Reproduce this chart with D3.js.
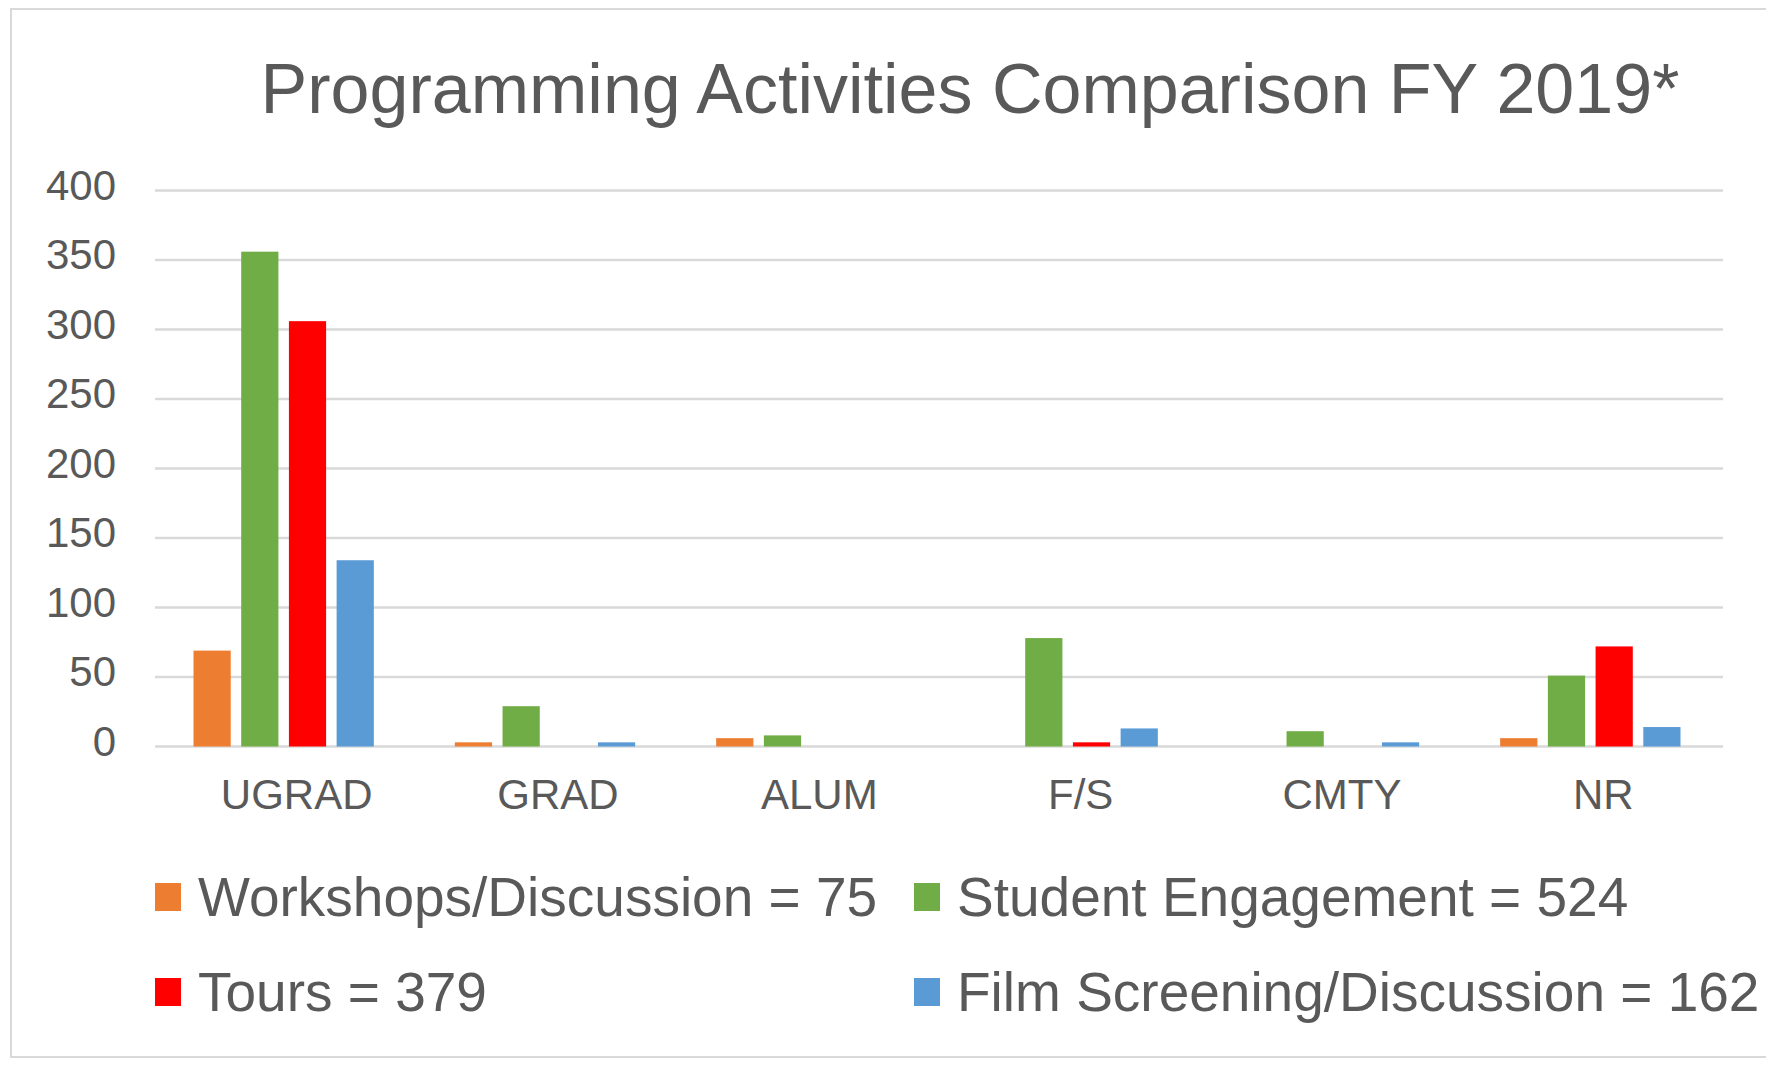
<!DOCTYPE html>
<html lang="en">
<head>
    <meta charset="UTF-8">
    <title>Programming Activities Comparison FY 2019</title>
    <script src="https://d3js.org/d3.v7.min.js"></script>
    <style>
        body { margin: 0; background: white; }
        text { font-family: "Liberation Sans", Arial, sans-serif; fill: #595959; }
    </style>
</head>
<body>
    <script>
        var categories = ["UGRAD", "GRAD", "ALUM", "F/S", "CMTY", "NR"];
        var seriesNames = ["Workshops/Discussion", "Student Engagement", "Tours", "Film Screening/Discussion"];
        var legendLabels = ["Workshops/Discussion = 75", "Student Engagement = 524", "Tours = 379", "Film Screening/Discussion = 162"];
        var workshops = [69, 3, 6, 0, 0, 6];
        var engagement = [356, 29, 8, 78, 11, 51];
        var tours = [306, 0, 0, 3, 0, 72];
        var film = [134, 3, 0, 13, 3, 14];
        var yTicks = [0, 50, 100, 150, 200, 250, 300, 350, 400];
        var colors = ["#ED7D31", "#70AD47", "#FF0000", "#5B9BD5"];

        var W = 1766, H = 1066;
        var allSeries = [workshops, engagement, tours, film];

        var svg = d3.select("body").append("svg")
            .attr("width", W)
            .attr("height", H);

        // outer frame
        svg.append("rect")
            .attr("x", 11).attr("y", 9)
            .attr("width", 1800).attr("height", 1048)
            .style("fill", "white")
            .style("stroke", "#d9d9d9")
            .style("stroke-width", 2);

        svg.append("text")
            .attr("x", 970).attr("y", 113)
            .attr("text-anchor", "middle")
            .style("font-size", "70px")
            .text("Programming Activities Comparison FY 2019*");

        var x0 = d3.scaleBand()
            .domain(categories)
            .range([153, 1721])
            .paddingInner(0.31)
            .paddingOuter(0.155);

        var x1 = d3.scaleBand()
            .domain(seriesNames)
            .range([0, x0.bandwidth()])
            .paddingInner(0.22);

        var y = d3.scaleLinear()
            .domain([0, 400])
            .range([746.5, 190.5]);

        // gridlines
        svg.append("g").selectAll("line")
            .data(yTicks)
            .enter().append("line")
            .attr("x1", 155).attr("x2", 1723)
            .attr("y1", function(d){ return y(d); })
            .attr("y2", function(d){ return y(d); })
            .style("stroke", "#d9d9d9")
            .style("stroke-width", 2.5);

        // y labels
        svg.append("g").selectAll("text")
            .data(yTicks)
            .enter().append("text")
            .attr("x", 116)
            .attr("y", function(d){ return y(d); })
            .attr("dy", "0.22em")
            .attr("text-anchor", "end")
            .style("font-size", "42px")
            .text(function(d){ return d; });

        // bars
        var groups = svg.append("g").selectAll("g")
            .data(categories)
            .enter().append("g")
            .attr("transform", function(d){ return "translate(" + x0(d) + ",0)"; });

        groups.selectAll("rect")
            .data(function(d, i){
                return seriesNames.map(function(s, j){ return {s: s, v: allSeries[j][i], c: colors[j]}; });
            })
            .enter().append("rect")
            .attr("x", function(d){ return x1(d.s); })
            .attr("width", x1.bandwidth())
            .attr("y", function(d){ return y(d.v); })
            .attr("height", function(d){ return y(0) - y(d.v); })
            .style("fill", function(d){ return d.c; });

        // x labels
        svg.append("g").selectAll("text")
            .data(categories)
            .enter().append("text")
            .attr("x", function(d){ return x0(d) + x0.bandwidth() / 2 + 13; })
            .attr("y", 809)
            .attr("text-anchor", "middle")
            .style("font-size", "42px")
            .text(function(d){ return d; });

        // legend
        var legendX = [155, 914];
        var legendY = [897, 992];
        var legend = svg.append("g").selectAll("g")
            .data(legendLabels)
            .enter().append("g")
            .attr("transform", function(d, i){
                return "translate(" + legendX[i % 2] + "," + legendY[Math.floor(i / 2)] + ")";
            });

        legend.append("rect")
            .attr("x", 0).attr("y", -14)
            .attr("width", 26).attr("height", 28)
            .style("fill", function(d, i){ return colors[i]; });

        legend.append("text")
            .attr("x", 43)
            .attr("y", 0)
            .attr("dy", "0.35em")
            .style("font-size", "55px")
            .text(function(d){ return d; });
    </script>
</body>
</html>
